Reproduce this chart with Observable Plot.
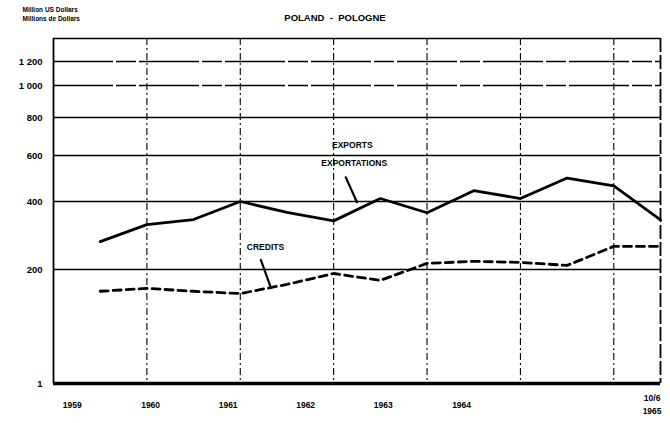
<!DOCTYPE html>
<html><head><meta charset="utf-8">
<script src="https://cdn.jsdelivr.net/npm/d3@7"></script>
<script src="https://cdn.jsdelivr.net/npm/@observablehq/plot@0.6"></script>
<style>body{margin:0;background:#fff} svg{display:block}</style>
</head><body><div id="chart"></div>
<script>
// Half-yearly observations (plotted at end of each half-year)
const periods = [1959.5, 1960, 1960.5, 1961, 1961.5, 1962, 1962.5, 1963, 1963.5, 1964, 1964.5, 1965, 1965.5];
const exportsValues = [282, 332, 347, 400, 368, 343, 413, 367, 447, 413, 502, 468, 346];
const creditsValues = [162, 167, 162, 158, 174, 193, 181, 218, 224, 221, 212, 268, 268];
const yTickValues = [1, 200, 400, 600, 800, 1000, 1200];
const yTickLabels = ["1", "200", "400", "600", "800", "1 000", "1 200"];
const yearLines = [1960, 1961, 1962, 1963, 1964, 1965];
const xTickLabels = ["1959", "1960", "1961", "1962", "1963", "1964", "10/6\n1965"];
const xTickAt = [1959.2, 1960.04, 1960.87, 1961.7, 1962.53, 1963.37, 1965.41];
const titleText = "POLAND  -  POLOGNE";
const unitLine1 = "Million US Dollars";
const unitLine2 = "Millions de Dollars";
const seriesLabels = [
  {text: "EXPORTS", x: 1962.2, y: 655},
  {text: "EXPORTATIONS", x: 1962.22, y: 565},
  {text: "CREDITS", x: 1961.27, y: 266}
];
const pointers = [
  {x1: 1962.13, y1: 505, x2: 1962.25, y2: 398, bend: 0},
  {x1: 1961.22, y1: 228, x2: 1961.32, y2: 172, bend: -25}
];

const font = "Liberation Sans, Arial, sans-serif";
const chart = Plot.plot({
  width: 670,
  height: 423,
  marginTop: 38,
  marginBottom: 40,
  marginLeft: 53,
  marginRight: 10,
  style: {fontFamily: font, fontWeight: "bold", background: "#fff", color: "#000"},
  x: {domain: [1959, 1965.5], axis: null},
  y: {type: "linear", domain: [1, 200, 400, 600, 800, 1000, 1200, 1400], range: [383, 269, 201, 155, 117, 85, 61, 38], axis: null},
  marks: [
    Plot.ruleY([200, 400, 600, 800], {stroke: "#000", strokeWidth: 1.6}),
    Plot.ruleY([1000, 1200], {stroke: "#000", strokeWidth: 1.4, strokeDasharray: "60,3,20,3"}),
    Plot.ruleY([1400], {stroke: "#000", strokeWidth: 1.6}),
    Plot.ruleX(yearLines, {stroke: "#000", strokeWidth: 1.1, strokeDasharray: "7,3,2,3"}),
    Plot.ruleX([1965.5], {stroke: "#000", strokeWidth: 1.8, strokeDasharray: "14,3"}),
    Plot.ruleX([1959], {stroke: "#000", strokeWidth: 1.8}),
    Plot.ruleY([1], {stroke: "#000", strokeWidth: 3.5}),
    Plot.line(periods, {x: periods, y: exportsValues, stroke: "#000", strokeWidth: 2.8, strokeLinejoin: "miter"}),
    Plot.line(periods, {x: periods, y: creditsValues, stroke: "#000", strokeWidth: 2.8, strokeDasharray: "8,5"}),
    Plot.text(seriesLabels, {x: "x", y: "y", text: "text", fontSize: 8.5, fontWeight: "bold"}),
    Plot.arrow(pointers, {x1: "x1", y1: "y1", x2: "x2", y2: "y2", bend: "bend", stroke: "#000", strokeWidth: 2.2, headLength: 4}),
    Plot.axisY(yTickValues, {tickFormat: (d) => yTickLabels[yTickValues.indexOf(d)], tickSize: 0, tickPadding: 11, label: null, fontSize: 9.5, fontWeight: "bold"}),
    Plot.text(xTickLabels, {x: xTickAt, frameAnchor: "bottom", lineAnchor: "middle", dy: 20, fontSize: 8.5, fontWeight: "bold", lineHeight: 1.5}),
    Plot.text([titleText], {frameAnchor: "top", dx: -22, dy: -24, fontSize: 9.5, fontWeight: "bold"}),
    Plot.text([unitLine1], {frameAnchor: "top-left", textAnchor: "start", dx: -31, dy: -31, fontSize: 6.5, fontWeight: "bold"}),
    Plot.text([unitLine2], {frameAnchor: "top-left", textAnchor: "start", dx: -31, dy: -22, fontSize: 6.5, fontWeight: "bold"})
  ]
});
document.getElementById("chart").appendChild(chart);
</script>
</body></html>
